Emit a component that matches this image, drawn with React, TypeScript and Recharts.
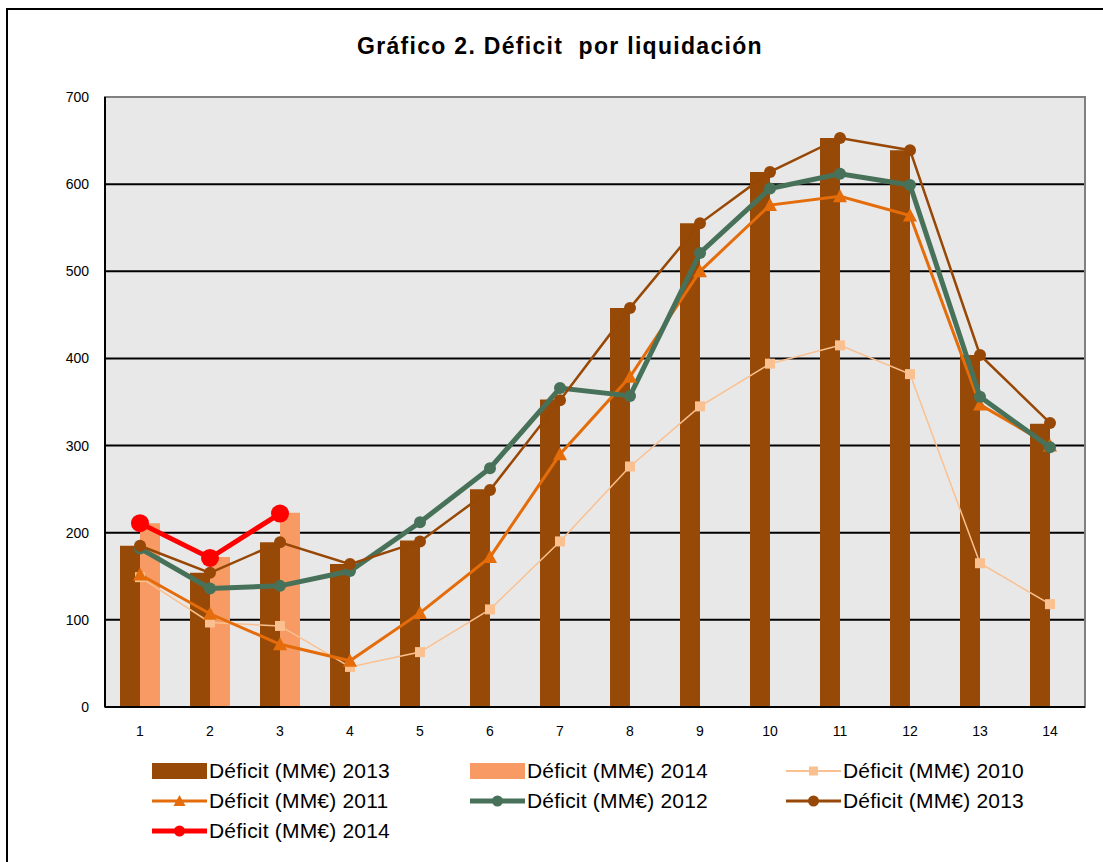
import React from 'react';
import { ComposedChart, Bar, Line, XAxis, YAxis, CartesianGrid, ReferenceArea } from 'recharts';

const categories = ['1', '2', '3', '4', '5', '6', '7', '8', '9', '10', '11', '12', '13', '14'];
const bar2013 = [185, 154, 189, 164, 191, 250, 353, 458, 555, 614, 653, 639, 404, 325];
const bar2014: (number | null)[] = [211, 172, 223, null, null, null, null, null, null, null, null, null, null, null];
const line2010 = [149, 97, 93, 46, 63, 112, 190, 276, 345, 394, 415, 382, 165, 118];
const line2011 = [152, 107, 72, 53, 108, 172, 290, 379, 500, 576, 586, 564, 347, 300];
const line2012 = [182, 136, 139, 156, 212, 274, 366, 357, 521, 595, 612, 599, 356, 298];
const line2013 = [185, 154, 189, 164, 190, 249, 352, 458, 555, 614, 653, 639, 404, 326];
const line2014: (number | null)[] = [211, 171, 222, null, null, null, null, null, null, null, null, null, null, null];
const yTicks = [0, 100, 200, 300, 400, 500, 600, 700];
const gridValues = [100, 200, 300, 400, 500, 600];

const C_BAR13 = '#974A07';
const C_BAR14 = '#F79A63';
const C_10 = '#FAC090';
const C_11 = '#E46C0A';
const C_12 = '#48715A';
const C_13 = '#974806';
const C_14 = '#FF0000';

const data = categories.map((c, i) => ({
  cat: c,
  b13: bar2013[i],
  b14: bar2014[i],
  l10: line2010[i],
  l11: line2011[i],
  l12: line2012[i],
  l13: line2013[i],
  l14: line2014[i],
}));

const FONT = '"Liberation Sans", Arial, sans-serif';

const squareDot = (props: any) => {
  const { cx, cy, index } = props;
  if (cx == null || cy == null || props.value == null) return <g key={`s${index}`} />;
  return <rect key={`s${index}`} x={cx - 5} y={cy - 5} width={10} height={10} fill={C_10} />;
};

const triangleDot = (props: any) => {
  const { cx, cy, index } = props;
  if (cx == null || cy == null || props.value == null) return <g key={`t${index}`} />;
  return (
    <polygon
      key={`t${index}`}
      points={`${cx},${cy - 7} ${cx + 7},${cy + 6} ${cx - 7},${cy + 6}`}
      fill={C_11}
    />
  );
};

type LegendItem = { label: string; kind: 'bar' | 'line'; color: string; width: number; marker: 'none' | 'square' | 'triangle' | 'circle'; msize: number };

const legendItems: LegendItem[] = [
  { label: 'Déficit (MM€) 2013', kind: 'bar', color: C_BAR13, width: 0, marker: 'none', msize: 0 },
  { label: 'Déficit (MM€) 2014', kind: 'bar', color: C_BAR14, width: 0, marker: 'none', msize: 0 },
  { label: 'Déficit (MM€) 2010', kind: 'line', color: C_10, width: 2, marker: 'square', msize: 9 },
  { label: 'Déficit (MM€) 2011', kind: 'line', color: C_11, width: 3, marker: 'triangle', msize: 11 },
  { label: 'Déficit (MM€) 2012', kind: 'line', color: C_12, width: 5, marker: 'circle', msize: 11 },
  { label: 'Déficit (MM€) 2013', kind: 'line', color: C_13, width: 3, marker: 'circle', msize: 11 },
  { label: 'Déficit (MM€) 2014', kind: 'line', color: C_14, width: 5, marker: 'circle', msize: 11 },
];

const colX = [152, 470, 786];
const rowY = [771, 801, 831];

const LegendMarker = ({ it }: { it: LegendItem }) => {
  const w = 55;
  const h = 20;
  const cx = w / 2;
  const cy = h / 2;
  return (
    <svg width={w} height={h} style={{ display: 'block' }}>
      {it.kind === 'bar' ? (
        <rect x={0} y={2} width={w} height={16} fill={it.color} />
      ) : (
        <g>
          <line x1={0} y1={cy} x2={w} y2={cy} stroke={it.color} strokeWidth={it.width} />
          {it.marker === 'square' && <rect x={cx - 4.5} y={cy - 4.5} width={9} height={9} fill={it.color} />}
          {it.marker === 'triangle' && (
            <polygon points={`${cx},${cy - 6} ${cx + 6},${cy + 5} ${cx - 6},${cy + 5}`} fill={it.color} />
          )}
          {it.marker === 'circle' && <circle cx={cx} cy={cy} r={5.5} fill={it.color} />}
        </g>
      )}
    </svg>
  );
};

export default function App() {
  return (
    <div style={{ position: 'absolute', left: 0, top: 0, width: 1103, height: 862, background: '#FFFFFF', overflow: 'hidden', fontFamily: FONT }}>
      <div style={{ position: 'absolute', left: 6, top: 8, width: 1110, height: 880, border: '2px solid #000', boxSizing: 'border-box' }} />
      <div style={{ position: 'absolute', left: 0, width: 1120, top: 31, textAlign: 'center', fontSize: 23, fontWeight: 'bold', color: '#000', lineHeight: '30px', letterSpacing: 1.3, whiteSpace: 'pre' }}>
        {'Gráfico 2. Déficit  por liquidación'}
      </div>
      <div style={{ position: 'absolute', left: 0, top: 0 }}>
        <ComposedChart
          width={1103}
          height={862}
          data={data}
          margin={{ top: 97, right: 18, bottom: 0, left: 0 }}
          barGap={0}
          barSize={20}
        >
          <CartesianGrid
            vertical={false}
            horizontalValues={gridValues}
            stroke="#000000"
            strokeWidth={2}
            fill="#E8E8E8"
            fillOpacity={1}
          />
          <ReferenceArea y1={0} y2={700} fill="none" stroke="#808080" strokeWidth={2} ifOverflow="visible" />
          <XAxis
            dataKey="cat"
            type="category"
            height={155}
            axisLine={{ stroke: '#000', strokeWidth: 2 }}
            tickLine={false}
            tick={{ fill: '#000', fontSize: 14, fontFamily: FONT }}
            tickMargin={13}
          />
          <YAxis
            type="number"
            domain={[0, 700]}
            ticks={yTicks}
            width={105}
            interval={0}
            axisLine={{ stroke: '#000', strokeWidth: 2 }}
            tickLine={false}
            tickSize={0}
            tickMargin={16}
            tick={{ fill: '#000', fontSize: 14, fontFamily: FONT }}
          />
          <Bar dataKey="b13" fill={C_BAR13} isAnimationActive={false} />
          <Bar dataKey="b14" fill={C_BAR14} isAnimationActive={false} />
          <Line dataKey="l10" stroke={C_10} strokeWidth={1.5} dot={squareDot} activeDot={false} isAnimationActive={false} />
          <Line dataKey="l11" stroke={C_11} strokeWidth={3} dot={triangleDot} activeDot={false} isAnimationActive={false} />
          <Line dataKey="l12" stroke={C_12} strokeWidth={5} dot={{ r: 6, fill: C_12, stroke: 'none' }} activeDot={false} isAnimationActive={false} />
          <Line dataKey="l13" stroke={C_13} strokeWidth={2.5} dot={{ r: 6, fill: C_13, stroke: 'none' }} activeDot={false} isAnimationActive={false} />
          <Line dataKey="l14" stroke={C_14} strokeWidth={5} dot={{ r: 9, fill: C_14, stroke: 'none' }} activeDot={false} isAnimationActive={false} />
        </ComposedChart>
      </div>
      {legendItems.map((it, i) => {
        const col = i % 3;
        const row = Math.floor(i / 3);
        return (
          <div
            key={i}
            style={{ position: 'absolute', left: colX[col], top: rowY[row] - 12, height: 24, display: 'flex', alignItems: 'center', whiteSpace: 'nowrap' }}
          >
            <LegendMarker it={it} />
            <span style={{ marginLeft: 2, fontSize: 21, color: '#000', fontFamily: FONT, letterSpacing: 0.2 }}>{it.label}</span>
          </div>
        );
      })}
    </div>
  );
}
